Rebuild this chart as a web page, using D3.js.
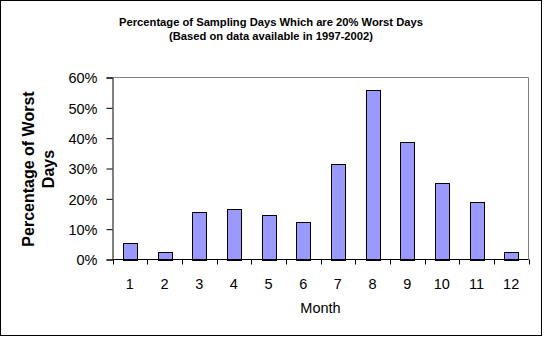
<!DOCTYPE html>
<html>
<head>
<meta charset="utf-8">
<script src="https://cdn.jsdelivr.net/npm/d3@7"></script>
<style>
  html, body { margin: 0; padding: 0; background: #fff; }
  svg { display: block; }
  text { font-family: "Liberation Sans", Arial, sans-serif; }
</style>
</head>
<body>
<svg id="chart" width="544" height="338"></svg>
<script>
const months = ["1","2","3","4","5","6","7","8","9","10","11","12"];
const percentWorst = [5.6, 2.6, 15.5, 16.8, 14.8, 12.5, 31.6, 56.0, 38.6, 25.1, 18.8, 2.6];
const yTicks = [0, 10, 20, 30, 40, 50, 60];
const titleLines = ["Percentage of Sampling Days Which are 20% Worst Days", "(Based on data available in 1997-2002)"];
const yTitleLines = ["Percentage of Worst", "Days"];
const xTitle = "Month";

const svg = d3.select("#chart");
const plot = { left: 112.5, right: 528.5, top: 77.5, bottom: 259.5 };

// outer frame
svg.append("rect").attr("x", 0.5).attr("y", 0.5).attr("width", 541).attr("height", 335)
  .attr("fill", "#fff").attr("stroke", "#000").attr("stroke-width", 1);

const x = d3.scaleBand().domain(months).range([plot.left, plot.right])
  .paddingInner(0.6).paddingOuter(0.3);
const y = d3.scaleLinear().domain([0, 60]).range([plot.bottom, plot.top]);

// plot border top/right (gray)
svg.append("path")
  .attr("d", `M${plot.left},${plot.top}H${plot.right}V${plot.bottom}`)
  .attr("fill", "none").attr("stroke", "#808080");

// bars
svg.append("g").selectAll("rect").data(percentWorst).join("rect")
  .attr("x", (d, i) => Math.round(x(months[i])) + 0.5)
  .attr("y", d => Math.round(y(d)) + 0.5)
  .attr("width", Math.round(x.bandwidth()))
  .attr("height", d => Math.round(y(0)) - Math.round(y(d)))
  .attr("fill", "#9999FF").attr("stroke", "#000").attr("stroke-width", 1);

// y axis
const yAxis = d3.axisLeft(y).tickValues(yTicks).tickSize(6).tickPadding(9)
  .tickFormat(d => d + "%");
const gy = svg.append("g").attr("transform", `translate(${plot.left},0)`).call(yAxis);
gy.select(".domain").attr("stroke", "#000");
gy.selectAll(".tick line").attr("stroke", "#000");
gy.selectAll(".tick text").attr("font-size", 14.5).attr("fill", "#000")
  .attr("font-family", "Liberation Sans, Arial, sans-serif").attr("dy", "0.36em");

// x axis: ticks at category boundaries
const gx = svg.append("g").attr("transform", `translate(0,${plot.bottom})`);
gx.append("line").attr("x1", plot.left).attr("x2", plot.right).attr("y1", 0).attr("y2", 0)
  .attr("stroke", "#000");
const boundaries = d3.range(months.length + 1).map(i => plot.left + i * (plot.right - plot.left) / months.length);
gx.selectAll("line.bt").data(boundaries).join("line").attr("class", "bt")
  .attr("x1", d => Math.round(d) + 0.5).attr("x2", d => Math.round(d) + 0.5)
  .attr("y1", 0).attr("y2", 5).attr("stroke", "#000");
gx.selectAll("text").data(months).join("text")
  .attr("x", d => x(d) + x.bandwidth() / 2)
  .attr("y", 29)
  .attr("text-anchor", "middle").attr("font-size", 14.5).attr("fill", "#000")
  .text(d => d);

// x title
svg.append("text").attr("x", (plot.left + plot.right) / 2).attr("y", 313)
  .attr("text-anchor", "middle").attr("font-size", 14.5).attr("fill", "#000").text(xTitle);

// y title (rotated)
const yt = svg.append("text").attr("transform", "translate(0,169) rotate(-90)")
  .attr("text-anchor", "middle").attr("font-size", 16).attr("font-weight", "bold").attr("fill", "#000");
yt.selectAll("tspan").data(yTitleLines).join("tspan")
  .attr("x", 0).attr("y", (d, i) => 34 + i * 20).text(d => d);

// chart title
const tt = svg.append("text").attr("text-anchor", "middle").attr("font-size", 11.2)
  .attr("font-weight", "bold").attr("fill", "#000");
tt.selectAll("tspan").data(titleLines).join("tspan")
  .attr("x", 271).attr("y", (d, i) => 26 + i * 14).text(d => d);
</script>
</body>
</html>
